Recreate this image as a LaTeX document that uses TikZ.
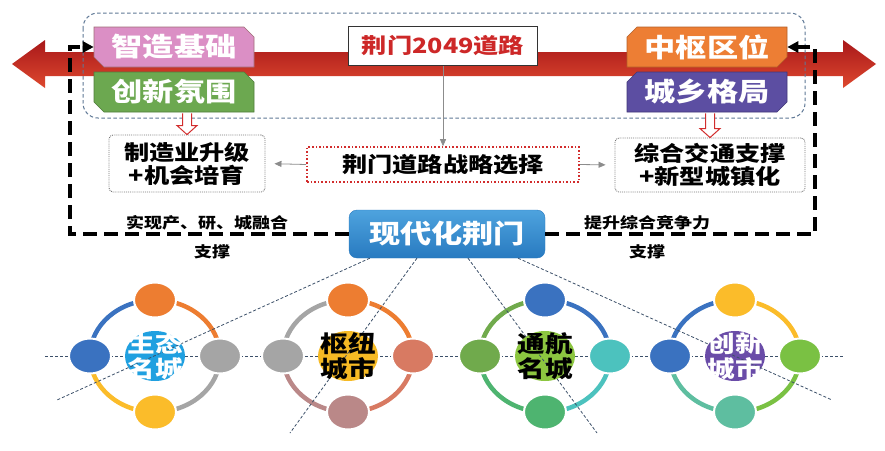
\documentclass[tikz,border=0pt]{standalone}
\usepackage{fontspec}
\setmainfont{Noto Sans CJK SC}[FakeStretch=1.2]
\usetikzlibrary{shapes.misc,shapes.geometric,arrows.meta,calc}

\definecolor{pinkc}{RGB}{219,143,197}
\definecolor{pinkd}{RGB}{160,110,120}
\definecolor{greenc}{RGB}{108,168,80}
\definecolor{greend}{RGB}{80,125,60}
\definecolor{orangec}{RGB}{237,126,52}
\definecolor{oranged}{RGB}{180,95,40}
\definecolor{purplec}{RGB}{92,78,162}
\definecolor{purpled}{RGB}{65,55,120}
\definecolor{roadred}{RGB}{205,40,40}
\definecolor{arrowtop}{RGB}{168,24,26}
\definecolor{arrowbot}{RGB}{222,72,46}
\definecolor{frameblue}{RGB}{95,120,150}
\definecolor{diagc}{RGB}{60,80,105}
\definecolor{modtop}{RGB}{78,163,222}
\definecolor{modbot}{RGB}{40,122,192}
\definecolor{grayline}{RGB}{140,140,140}
\definecolor{dotgray}{RGB}{120,120,120}
\definecolor{dotred}{RGB}{210,45,45}
% cluster colours
\definecolor{cBlue}{RGB}{58,114,192}
\definecolor{cOrange}{RGB}{237,125,49}
\definecolor{cGray}{RGB}{165,165,165}
\definecolor{cYellow}{RGB}{251,188,42}
\definecolor{cSky}{RGB}{32,160,224}
\definecolor{cSalmon}{RGB}{216,122,98}
\definecolor{cMauve}{RGB}{186,136,136}
\definecolor{cGold}{RGB}{246,186,36}
\definecolor{cOlive}{RGB}{112,170,76}
\definecolor{cTeal}{RGB}{76,194,190}
\definecolor{cGreen}{RGB}{78,180,112}
\definecolor{cLime}{RGB}{140,198,64}
\definecolor{cLeaf}{RGB}{122,193,67}
\definecolor{cSea}{RGB}{94,190,160}
\definecolor{cViolet}{RGB}{106,76,168}

\newcommand\mycluster[7]{%
  \coordinate (#1c) at (#2,356);
  \draw[ringarc,#3] ($(#1c)+(-65,0)$) arc[start angle=180,end angle=90,x radius=65pt,y radius=56pt];
  \draw[ringarc,#4] ($(#1c)+(0,-56)$) arc[start angle=90,end angle=0,x radius=65pt,y radius=56pt];
  \draw[ringarc,#5] ($(#1c)+(65,0)$) arc[start angle=0,end angle=-90,x radius=65pt,y radius=56pt];
  \draw[ringarc,#6] ($(#1c)+(0,56)$) arc[start angle=-90,end angle=-180,x radius=65pt,y radius=56pt];
  \node[smallc,fill=#3] (#1l) at ($(#1c)+(-65,0)$) {};
  \node[smallc,fill=#4] (#1t) at ($(#1c)+(0,-56)$) {};
  \node[smallc,fill=#5] (#1r) at ($(#1c)+(65,0)$) {};
  \node[smallc,fill=#6] (#1b) at ($(#1c)+(0,56)$) {};
  \node[bigc,fill=#7] (#1o) at (#1c) {};
}

\begin{document}
\begin{tikzpicture}[x=1pt,y=-1pt,
  chamf/.style={chamfered rectangle, chamfered rectangle xsep=5pt, chamfered rectangle ysep=5pt,
    minimum width=160pt, minimum height=40pt, inner sep=0pt, line width=0.6pt,
    text=white, font=\fontsize{26}{28}\selectfont\bfseries},
  graybox/.style={draw=dotgray, densely dotted, line width=0.9pt, rounded corners=4pt, fill=white,
    align=center, inner sep=0pt, font=\fontsize{21}{23}\selectfont\bfseries},
  grayarr/.style={draw=grayline, line width=0.8pt, -{Triangle[length=7pt,width=6pt]}},
  hollow/.style={draw=dotred, line width=1pt, fill=white, line join=miter},
  frame/.style={draw=black, line width=3.5pt, dash pattern=on 14pt off 7pt},
  smalllabel/.style={font=\fontsize{15}{16}\selectfont\bfseries, inner sep=0pt},
  diag/.style={draw=diagc, line width=0.8pt, dash pattern=on 3pt off 2pt},
  ringarc/.style={line width=4.5pt},
  smallc/.style={ellipse, minimum width=42pt, minimum height=35pt, inner sep=0pt, draw=white, line width=2pt},
  bigc/.style={ellipse, minimum width=60pt, minimum height=50pt, inner sep=0pt},
  ctext/.style={align=center, inner sep=0pt, font=\fontsize{23}{25}\selectfont\bfseries}
]
\useasboundingbox (0,0) rectangle (885,450);
\fill[white] (0,0) rectangle (885,450);

% big red double arrow
\shade[top color=arrowtop, bottom color=arrowbot]
  (12,64) -- (45,40) -- (45,52) -- (843,52) -- (843,40) -- (876,64)
  -- (843,88) -- (843,76) -- (45,76) -- (45,88) -- cycle;

% blue dashed rounded frame
\draw[frameblue, line width=1pt, dash pattern=on 3.5pt off 2.5pt, rounded corners=15pt]
  (83,13) rectangle (805,118);

% top boxes
\node[chamf, chamfered rectangle corners={north east,south west}, fill=pinkc, draw=pinkd] (zhizao) at (174,47) {智造基础};
\node[chamf, chamfered rectangle corners={north east,south west}, fill=greenc, draw=greend] (chuangxin) at (174,92) {创新氛围};
\node[chamf, chamfered rectangle corners={north west,south east}, fill=orangec, draw=oranged] (zhongshu) at (707,47) {中枢区位};
\node[chamf, chamfered rectangle corners={north west,south east}, fill=purplec, draw=purpled] (chengxiang) at (707,92) {城乡格局};

\node[draw=black!80, line width=1pt, fill=white, minimum width=189pt, minimum height=39pt, inner sep=0pt,
  text=roadred, font=\fontsize{21}{23}\selectfont\bfseries] (road) at (443,46) {荆门2049道路};

% middle boxes
\node[draw=dotred, line width=1.6pt, dotted, fill=white, minimum width=272pt, minimum height=35pt, inner sep=0pt,
  font=\fontsize{21}{23}\selectfont\bfseries] (strategy) at (443,164.5) {荆门道路战略选择};
\node[graybox, minimum width=156pt, minimum height=57pt] (leftbox) at (187,163.5) {制造业升级\\+机会培育};
\node[graybox, minimum width=190pt, minimum height=54pt] (rightbox) at (710,165) {综合交通支撑\\+新型城镇化};

\draw[grayarr] (road.south) -- (strategy.north);
\draw[grayarr, shorten >=9pt] (strategy.west) -- (leftbox.east);
\draw[grayarr, shorten >=9pt] (strategy.east) -- (rightbox.west);

% hollow red arrows
\coordinate (ha1) at (chuangxin.south -| leftbox.north);
\draw[hollow] ($(ha1)+(-4.5,1)$) -- ($(leftbox.north)+(-4.5,-9)$) -- ($(leftbox.north)+(-10,-9)$)
  -- (leftbox.north) -- ($(leftbox.north)+(10,-9)$) -- ($(leftbox.north)+(4.5,-9)$) -- ($(ha1)+(4.5,1)$);
\coordinate (ha2) at (chengxiang.south -| rightbox.north);
\draw[hollow] ($(ha2)+(-4.5,1)$) -- ($(rightbox.north)+(-4.5,-9)$) -- ($(rightbox.north)+(-10,-9)$)
  -- (rightbox.north) -- ($(rightbox.north)+(10,-9)$) -- ($(rightbox.north)+(4.5,-9)$) -- ($(ha2)+(4.5,1)$);

% modern box
\node[rounded corners=8pt, top color=modtop, bottom color=modbot, draw=modbot, minimum width=196pt, minimum height=48pt,
  inner sep=0pt, text=white, font=\fontsize{26}{28}\selectfont\bfseries] (modern) at (447,234) {现代化荆门};

% black dashed frame
\coordinate (fl) at (70,47);
\coordinate (fr) at (815,47);
\draw[frame, -{Triangle[length=11pt,width=11pt]}] (modern.west) -| (fl) -- (zhizao.west);
\draw[frame, -{Triangle[length=11pt,width=11pt]}] (modern.east) -| (fr) -- (zhongshu.east);

\node[smalllabel] (lab1) at (207,223) {实现产、研、城融合};
\node[smalllabel] (lab2) at (212,252) {支撑};
\node[smalllabel] (lab3) at (647,223) {提升综合竞争力};
\node[smalllabel] (lab4) at (647,252) {支撑};

% horizontal dashed line
\coordinate (hl) at (45,356);
\coordinate (hr) at (843,356);
\draw[diag] (hl) -- (hr);

% clusters
\mycluster{a}{155}{cBlue}{cOrange}{cGray}{cYellow}{cSky}
\mycluster{b}{348}{cGray}{cOrange}{cSalmon}{cMauve}{cGold}
\mycluster{c}{545}{cOlive}{cBlue}{cTeal}{cGreen}{cLime}
\mycluster{d}{735}{cBlue}{cYellow}{cLeaf}{cSea}{cViolet}

% diagonal dashed lines
\coordinate (d1) at (57,400);
\coordinate (d2) at (290,433);
\coordinate (d3) at (597,433);
\coordinate (d4) at (832,400);
\draw[diag] ($(modern.south west)!0.107!(modern.south east)$) -- (d1);
\draw[diag] ($(modern.south west)!0.347!(modern.south east)$) -- (d2);
\draw[diag] ($(modern.south west)!0.607!(modern.south east)$) -- (d3);
\draw[diag] ($(modern.south west)!0.862!(modern.south east)$) -- (d4);

% cluster texts
\node[ctext, text=white] (aTxt) at (ac) {生态\\名城};
\node[ctext, text=black] (bTxt) at (bc) {枢纽\\城市};
\node[ctext, text=black] (cTxt) at (cc) {通航\\名城};
\node[ctext, text=white] (dTxt) at (dc) {创新\\城市};
\end{tikzpicture}
\end{document}
